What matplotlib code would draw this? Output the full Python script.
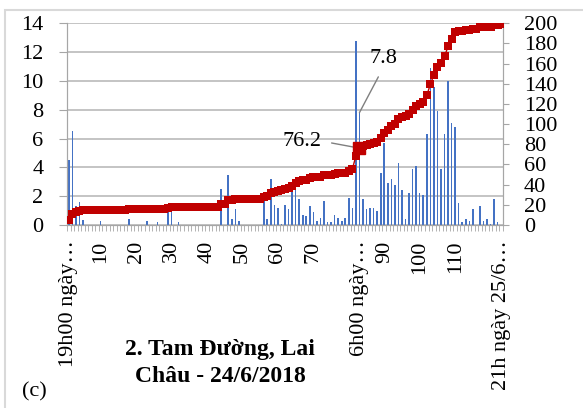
import numpy as np
import matplotlib
matplotlib.use('Agg')
import matplotlib.pyplot as plt
from matplotlib.patches import Rectangle

plt.rcParams['font.family'] = ['Liberation Serif', 'DejaVu Serif']

# Rainfall per step (mm), left axis, bars
rain = [4.5, 6.5, 1.3, 1.6, 0.35, 0, 0, 0, 0, 0.25,
        0, 0, 0, 0, 0, 0, 0, 0.45, 0, 0,
        0, 0, 0.3, 0, 0, 0.2, 0, 0, 0.95, 1.05,
        0, 0.2, 0, 0, 0, 0, 0, 0, 0, 0,
        0, 0, 0, 2.5, 0, 3.5, 0.4, 1.1, 0.3, 0,
        0, 0, 0, 0, 0, 1.75, 0.45, 3.2, 1.4, 1.15,
        0.1, 1.4, 1.1, 2.3, 2.7, 1.8, 0.7, 0.6, 1.3, 0.9,
        0.3, 0.5, 1.7, 0.2, 0.2, 0.7, 0.5, 0.3, 0.5, 1.9,
        1.15, 12.8, 7.8, 1.8, 1.1, 1.15, 1.15, 1.0, 3.6, 5.7,
        2.9, 3.2, 2.8, 4.3, 2.4, 0.4, 2.2, 3.9, 4.1, 2.2,
        2.1, 6.3, 10.9, 9.6, 7.9, 3.9, 6.3, 10.0, 7.1, 6.8,
        1.5, 0.2, 0.45, 0.3, 1.1, 0, 1.35, 0.3, 0.4, 0.1,
        1.8, 0.2, 0]

# Accumulated rainfall (mm), right axis, line
accum = [4.5, 11.2, 12.6, 14.3, 14.7, 14.7, 14.7, 14.7, 14.7, 15.0,
         15.0, 15.0, 15.0, 15.0, 15.0, 15.0, 15.0, 15.5, 15.5, 15.5,
         15.5, 15.5, 15.8, 15.8, 15.8, 16.0, 16.0, 16.0, 17.0, 18.1,
         18.1, 18.3, 18.3, 18.3, 18.3, 18.3, 18.3, 18.3, 18.3, 18.3,
         18.3, 18.3, 18.3, 20.8, 20.8, 24.3, 24.7, 25.8, 26.1, 26.1,
         26.1, 26.1, 26.1, 26.1, 26.1, 27.9, 28.4, 31.6, 33.0, 34.2,
         34.3, 35.7, 36.8, 39.1, 41.8, 43.6, 44.3, 44.9, 46.2, 47.1,
         47.4, 47.9, 49.6, 49.8, 50.0, 50.7, 51.2, 51.5, 52.0, 54.0,
         55.4, 68.4, 76.2, 78.0, 79.1, 80.3, 81.4, 82.4, 86.0, 91.7,
         94.6, 97.8, 100.6, 104.9, 107.3, 107.7, 109.9, 113.8, 117.9, 120.1,
         122.2, 128.5, 139.4, 149.0, 156.9, 160.8, 167.1, 177.1, 184.2, 191.0,
         192.5, 192.7, 193.2, 193.5, 194.6, 194.6, 195.9, 196.2, 196.6, 196.7,
         198.5, 198.7, 199.2]

tick_pos = [1, 10, 20, 30, 40, 50, 60, 70, 83, 90, 100, 110, 123]
tick_labels = ['19h00 ngày…', '10', '20', '30', '40', '50', '60', '70',
               '6h00 ngày…', '90', '100', '110', '21h ngày 25/6…']

cats = np.arange(1, len(rain) + 1)
peak = 83  # highlighted point

fig = plt.figure(figsize=(5.83, 4.08), dpi=100)
fig.patches.append(Rectangle((5 / 583, -0.05), 1.2, 1 - 10 / 408 + 0.05,
                             transform=fig.transFigure, fill=False,
                             edgecolor='#D9D9D9', lw=1.5))

ax = fig.add_axes([67 / 583, 1 - 225 / 408, 436 / 583, 201.7 / 408])
ax2 = ax.twinx()

grey = '#A6A6A6'
ax.bar(cats, rain, width=0.45, color='#4472C4', zorder=2)
ax.set_ylim(0, 14)
ax.set_yticks(np.arange(0, 15, 2))
ax.set_xlim(0.5, len(rain) + 0.5)
ax.yaxis.grid(True, color='#BFBFBF', lw=1.3, zorder=0)
ax.set_axisbelow(True)
ax.set_xticks(tick_pos)
ax.set_xticklabels(tick_labels, rotation=90)
ax.set_xticks(np.arange(0.5, len(rain) + 1), minor=True)

ax2.plot(cats, accum, color='#C00000', lw=1, marker='s', markersize=5.3,
         markeredgewidth=0, zorder=3)
ax2.plot([peak], [accum[peak - 1]], marker='s', markersize=9,
         color='#C00000', zorder=4)
ax2.set_ylim(0, 200)
ax2.set_yticks(np.arange(0, 201, 20))

for a in (ax, ax2):
    for s in a.spines.values():
        s.set_color(grey)
    a.spines['top'].set_visible(False)
ax.tick_params(axis='y', length=6, color=grey, pad=11, labelsize=16)
ax.tick_params(axis='x', which='major', length=0, pad=11, labelsize=16)
ax.tick_params(axis='x', which='minor', length=4, color=grey)
ax2.tick_params(axis='y', length=4, color=grey, pad=11, labelsize=16)

ax2.annotate(f'{accum[peak - 1]}', xy=(peak, accum[peak - 1]),
             xytext=(-41, 5), textcoords='offset points', fontsize=16,
             ha='center', va='center',
             arrowprops=dict(arrowstyle='-', color='#7F7F7F', lw=1,
                             relpos=(1, 0.5), shrinkA=5, shrinkB=0))
ax.annotate(f'{rain[peak - 1]}', xy=(peak, rain[peak - 1]),
            xytext=(17, 39), textcoords='offset points', fontsize=16,
            ha='center', va='center',
            arrowprops=dict(arrowstyle='-', color='#7F7F7F', lw=1,
                            relpos=(0.5, 0), shrinkA=5, shrinkB=0))

fig.text(220 / 583, 1 - 350 / 408, '2. Tam Đường, Lai', ha='center',
         va='center', fontsize=17, fontweight='bold')
fig.text(220 / 583, 1 - 376 / 408, 'Châu - 24/6/2018', ha='center',
         va='center', fontsize=17, fontweight='bold')
fig.text(22 / 583, 1 - 392 / 408, '(c)', ha='left', va='center', fontsize=16)

fig.savefig('out.png', dpi=100)
